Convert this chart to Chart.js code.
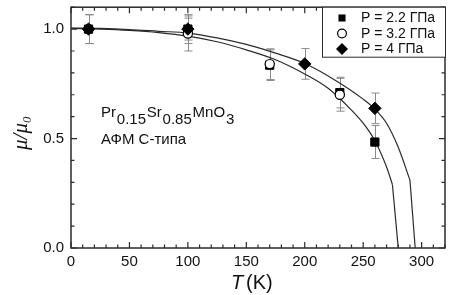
<!DOCTYPE html>
<html>
<head>
<meta charset="utf-8">
<script src="https://cdn.jsdelivr.net/npm/chart.js@4.4.0/dist/chart.umd.min.js"></script>
<style>
  html, body { margin: 0; padding: 0; background: #fff; }
  #wrap { width: 461px; height: 295px; }
</style>
</head>
<body>
<div id="wrap"><canvas id="muChart"></canvas></div>
<script>
// measured points (T in K, mu/mu0) and their error bars
const sqT = [15, 100, 170, 230, 260];
const sqMu = [1.0, 1.0, 0.835, 0.71, 0.484];
const sqErr = [0.066, 0.066, 0.07, 0.07, 0.075];

const ciT = [15, 100, 170, 230];
const ciMu = [1.0, 0.98, 0.84, 0.70];
const ciErr = [0.066, 0.08, 0.07, 0.075];

const diT = [15, 100, 200, 260];
const diMu = [1.0, 1.0, 0.841, 0.638];
const diErr = [0.066, 0.05, 0.07, 0.07];

// fitted curves (last segment is a straight drop to zero)
const fitInT = [0, 25, 50, 75, 100, 125, 150, 175, 200, 220, 240, 250, 260, 270, 275, 280];
const fitInMu = [1.003, 1.0, 0.994, 0.984, 0.968, 0.942, 0.905, 0.86, 0.795, 0.73, 0.63, 0.57, 0.49, 0.37, 0.29, 0];
const fitOutT = [0, 25, 50, 75, 100, 125, 150, 175, 200, 225, 250, 260, 270, 280, 290, 294.5];
const fitOutMu = [1.005, 1.003, 0.998, 0.99, 0.982, 0.96, 0.93, 0.89, 0.843, 0.77, 0.68, 0.635, 0.57, 0.46, 0.31, 0];

const legendLabels = ['P = 2.2 ГПа', 'P = 3.2 ГПа', 'P = 4 ГПа'];
const xTicks = [0, 50, 100, 150, 200, 250, 300];
const yTicks = [0, 0.5, 1.0];

const ink = '#2b2b2b';

function pts(xs, ys) {
    return xs.map((x, i) => ({x: x, y: ys[i]}));
}

function fitSet(data) {
    return {label: 'fit', data: data, showLine: true, pointRadius: 0, borderColor: ink,
        borderWidth: 1.2, cubicInterpolationMode: 'monotone', order: 5};
}

const inPts = pts(fitInT, fitInMu);
const outPts = pts(fitOutT, fitOutMu);

const sets = [
    {label: legendLabels[0], data: pts(sqT, sqMu), err: sqErr, pointStyle: 'rect', pointRadius: 5.8,
        backgroundColor: '#000', borderColor: '#000', borderWidth: 1, order: 3},
    {label: legendLabels[1], data: pts(ciT, ciMu), err: ciErr, pointStyle: 'circle', pointRadius: 4.6,
        backgroundColor: '#fff', borderColor: '#000', borderWidth: 1.2, order: 2},
    {label: legendLabels[2], data: pts(diT, diMu), err: diErr, pointStyle: 'rectRot', pointRadius: 6.2,
        backgroundColor: '#000', borderColor: '#000', borderWidth: 1, order: 1},
    fitSet(inPts.slice(0, -1)),
    fitSet(inPts.slice(-2)),
    fitSet(outPts.slice(0, -1)),
    fitSet(outPts.slice(-2))
];

function drawMarker(ctx, style, x, y, r) {
    ctx.beginPath();
    if (style === 'rect') {
        const s = r * Math.SQRT1_2;
        ctx.rect(x - s, y - s, 2 * s, 2 * s);
        ctx.fillStyle = '#000';
        ctx.fill();
    } else if (style === 'circle') {
        ctx.arc(x, y, r, 0, Math.PI * 2);
        ctx.fillStyle = '#fff';
        ctx.fill();
        ctx.strokeStyle = '#000';
        ctx.lineWidth = 1.2;
        ctx.stroke();
    } else {
        ctx.moveTo(x - r, y);
        ctx.lineTo(x, y - r);
        ctx.lineTo(x + r, y);
        ctx.lineTo(x, y + r);
        ctx.closePath();
        ctx.fillStyle = '#000';
        ctx.fill();
    }
}

const figPlugin = {
    id: 'fig',
    beforeDatasetsDraw(chart) {
        const ctx = chart.ctx;
        const xs = chart.scales.x, ys = chart.scales.y;
        ctx.save();
        ctx.strokeStyle = '#8a8a8a';
        ctx.lineWidth = 1;
        for (let d = 0; d < 3; d++) {
            const ds = sets[d];
            ds.data.forEach((p, i) => {
                const px = Math.round(xs.getPixelForValue(p.x)) + 0.5;
                const top = ys.getPixelForValue(p.y + ds.err[i]);
                const bot = ys.getPixelForValue(p.y - ds.err[i]);
                ctx.beginPath();
                ctx.moveTo(px, top); ctx.lineTo(px, bot);
                ctx.moveTo(px - 4, top); ctx.lineTo(px + 4, top);
                ctx.moveTo(px - 4, bot); ctx.lineTo(px + 4, bot);
                ctx.stroke();
            });
        }
        ctx.restore();
    },
    afterDraw(chart) {
        const ctx = chart.ctx;
        const a = chart.chartArea;
        const xs = chart.scales.x, ys = chart.scales.y;
        ctx.save();
        // frame
        ctx.strokeStyle = ink;
        ctx.lineWidth = 1.5;
        ctx.strokeRect(a.left, a.top, a.right - a.left, a.bottom - a.top);
        // inward ticks on all four sides
        ctx.lineWidth = 1.2;
        ctx.beginPath();
        for (let v = 0; v <= 320; v += 10) {
            const px = xs.getPixelForValue(v);
            const len = v % 50 === 0 ? 6 : 3.5;
            ctx.moveTo(px, a.bottom); ctx.lineTo(px, a.bottom - len);
            ctx.moveTo(px, a.top); ctx.lineTo(px, a.top + len);
        }
        for (let k = 0; k <= 11; k++) {
            const py = ys.getPixelForValue(k / 10);
            const len = k % 5 === 0 ? 6 : 3.5;
            ctx.moveTo(a.left, py); ctx.lineTo(a.left + len, py);
            ctx.moveTo(a.right, py); ctx.lineTo(a.right - len, py);
        }
        ctx.stroke();

        // legend box
        const lx = 322, ly = a.top, lw = a.right - 322, lh = 50;
        ctx.fillStyle = '#fff';
        ctx.fillRect(lx, ly, lw, lh);
        ctx.lineWidth = 1;
        ctx.strokeRect(lx + 0.5, ly, lw, lh);
        ctx.font = '14px "Liberation Sans", Arial, sans-serif';
        ctx.textBaseline = 'middle';
        const rows = [18, 33.5, 49];
        for (let d = 0; d < 3; d++) {
            const ds = sets[d];
            drawMarker(ctx, ds.pointStyle, 342, rows[d], d === 0 ? 5 : (d === 1 ? 4.4 : 6));
            ctx.fillStyle = '#111';
            ctx.fillText(legendLabels[d], 361, rows[d] + 0.5);
        }

        // compound label
        ctx.fillStyle = '#111';
        ctx.textBaseline = 'alphabetic';
        ctx.font = '15px "Liberation Sans", Arial, sans-serif';
        let x = 101;
        const parts = [['Pr', 0], ['0.15', 7.5], ['Sr', 0], ['0.85', 7.5], ['MnO', 0], ['3', 7.5]];
        parts.forEach(p => {
            ctx.fillText(p[0], x, 116.5 + p[1]);
            x += ctx.measureText(p[0]).width + 0.8;
        });
        ctx.fillText('АФМ С-типа', 101, 143.5);

        // y title
        ctx.save();
        ctx.translate(27, 130);
        ctx.rotate(-Math.PI / 2);
        ctx.font = 'italic 21px "Liberation Serif", "DejaVu Serif", serif';
        ctx.textBaseline = 'alphabetic';
        let tx = -20;
        ctx.fillText('μ/μ', tx, 0);
        tx += ctx.measureText('μ/μ').width;
        ctx.font = 'italic 13px "Liberation Serif", "DejaVu Serif", serif';
        ctx.fillText('0', tx, 4);
        ctx.restore();

        // x title
        ctx.font = 'italic 20px "Liberation Sans", Arial, sans-serif';
        ctx.fillText('T', 231, 289);
        ctx.font = '20px "Liberation Sans", Arial, sans-serif';
        ctx.fillText('(K)', 246, 289);
        ctx.restore();
    }
};

const tickFont = {family: '"Liberation Sans", Arial, sans-serif', size: 15};

new Chart(document.getElementById('muChart'), {
    type: 'scatter',
    data: {datasets: sets},
    plugins: [figPlugin],
    options: {
        responsive: true,
        maintainAspectRatio: false,
        animation: false,
        layout: {padding: {top: 6, right: 16, left: 0, bottom: 0}},
        plugins: {legend: {display: false}, tooltip: {enabled: false}},
        scales: {
            x: {
                type: 'linear', min: 0, max: 320,
                afterBuildTicks: s => { s.ticks = xTicks.map(v => ({value: v})); },
                afterFit: s => { s.height = 47; s.paddingLeft = 0; s.paddingRight = 0; },
                grid: {display: false, drawTicks: false},
                border: {display: false},
                ticks: {color: '#111', font: tickFont, padding: 5, maxRotation: 0}
            },
            y: {
                type: 'linear', min: 0, max: 1.1,
                afterBuildTicks: s => { s.ticks = yTicks.map(v => ({value: v})); },
                afterFit: s => { s.width = 71; s.paddingTop = 0; s.paddingBottom = 0; },
                grid: {display: false, drawTicks: false},
                border: {display: false},
                ticks: {color: '#111', font: tickFont, padding: 7, callback: v => v.toFixed(1)}
            }
        }
    }
});
</script>
</body>
</html>
